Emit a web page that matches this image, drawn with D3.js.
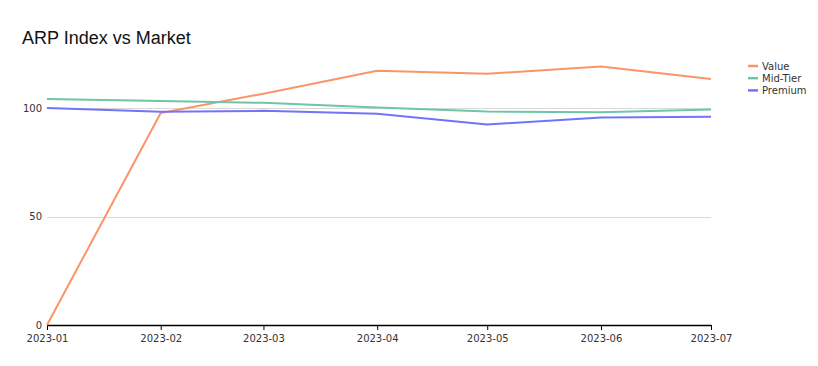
<!DOCTYPE html>
<html><head><meta charset="utf-8">
<script src="https://cdn.jsdelivr.net/npm/d3@7"></script>
<style>body{margin:0;background:#fff}svg{display:block}</style>
</head><body>
<svg id="chart" width="818" height="366"></svg>
<script>
const months = ["2023-01","2023-02","2023-03","2023-04","2023-05","2023-06","2023-07"];
const valueSeries = [0, 97.7, 106.6, 117.2, 115.8, 119.1, 113.4];
const midTierSeries = [104.1, 103.2, 102.4, 100.2, 98.4, 98.0, 99.3];
const premiumSeries = [100.0, 98.3, 98.7, 97.3, 92.4, 95.6, 96.0];
const seriesNames = ["Value", "Mid-Tier", "Premium"];
const seriesColors = ["#fc9468", "#6cc6a8", "#7373fa"];
const yTicks = [0, 50, 100];
const title = "ARP Index vs Market";

(function () {
const parse = d3.timeParse("%Y-%m");
const series = [valueSeries, midTierSeries, premiumSeries].map((vals, i) => ({
  name: seriesNames[i], color: seriesColors[i],
  points: months.map((m, j) => ({date: parse(m), v: vals[j]}))
}));

const svg = d3.select("#chart");
const left = 47, right = 711, bottom = 325;
const yMax = d3.max(series.flatMap(s => s.points.map(p => p.v)));
const plotTop = bottom - yMax * 2.17;

const x = d3.scaleTime().domain(d3.extent(months, m => parse(m))).range([left, right]);
const y = d3.scaleLinear().domain([0, yMax]).range([bottom, plotTop]);

svg.append("text").attr("x", 22).attr("y", 44)
  .attr("font-family", "'Liberation Sans', Arial, sans-serif")
  .attr("font-size", 18).attr("fill", "#111").text(title);

svg.append("g").selectAll("line").data(yTicks.filter(t => t > 0)).join("line")
  .attr("x1", left).attr("x2", right)
  .attr("y1", d => Math.round(y(d)) + 0.5).attr("y2", d => Math.round(y(d)) + 0.5)
  .attr("stroke", "#d9d9d9").attr("stroke-width", 1);

const yAxis = d3.axisLeft(y).tickValues(yTicks).tickSize(0).tickPadding(5);
const gy = svg.append("g").attr("transform", `translate(${left},0)`).call(yAxis);
gy.select(".domain").remove();
gy.selectAll("text").attr("font-family", "'DejaVu Sans', Verdana, sans-serif")
  .attr("font-size", 10).attr("fill", "#333");

const xAxis = d3.axisBottom(x).tickValues(months.map(parse))
  .tickFormat(d3.timeFormat("%Y-%m")).tickSize(5).tickSizeOuter(0).tickPadding(5);
const gx = svg.append("g").attr("transform", `translate(0,${bottom})`).call(xAxis);
gx.select(".domain").attr("stroke", "#000").attr("stroke-width", 1.5);
gx.selectAll(".tick line").attr("stroke", "#000");
gx.selectAll("text").attr("font-family", "'DejaVu Sans', Verdana, sans-serif")
  .attr("font-size", 10).attr("fill", "#333");

const line = d3.line().x(d => x(d.date)).y(d => y(d.v));
svg.append("g").selectAll("path").data(series).join("path")
  .attr("d", d => line(d.points))
  .attr("fill", "none").attr("stroke", d => d.color).attr("stroke-width", 2)
  .attr("stroke-linejoin", "round");

const lg = svg.append("g").attr("transform", "translate(748,66)");
const items = lg.selectAll("g").data(series).join("g")
  .attr("transform", (d, i) => `translate(0,${i * 12.2})`);
items.append("line").attr("x1", 0).attr("x2", 10).attr("y1", 0).attr("y2", 0)
  .attr("stroke", d => d.color).attr("stroke-width", 2.5);
items.append("text").attr("x", 14).attr("y", 0).attr("dy", "0.35em")
  .attr("font-family", "'DejaVu Sans', Verdana, sans-serif")
  .attr("font-size", 10).attr("fill", "#333").text(d => d.name);
})();
</script>
</body></html>
